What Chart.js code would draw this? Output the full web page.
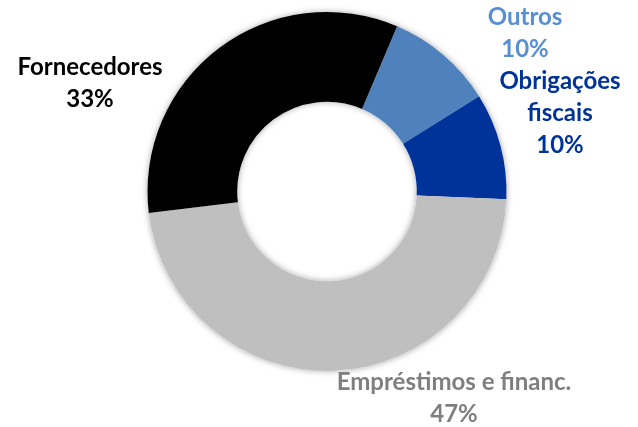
<!DOCTYPE html>
<html>
<head>
<meta charset="utf-8">
<script src="https://cdn.jsdelivr.net/npm/chart.js@4.4.1/dist/chart.umd.min.js"></script>
<style>
  html, body { margin: 0; padding: 0; background: #fff; }
  #wrap { width: 638px; height: 427px; }
</style>
</head>
<body>
<div id="wrap"><canvas id="passivoChart" width="638" height="427"></canvas></div>
<script>
// Composição do passivo
const categorias = ['Outros', 'Obrigações fiscais', 'Empréstimos e financ.', 'Fornecedores'];
const linhasRotulo = [['Outros'], ['Obrigações', 'fiscais'], ['Empréstimos e financ.'], ['Fornecedores']];
const valores = [9.7, 9.6, 47.4, 33.3];
const rotulosPct = ['10%', '10%', '47%', '33%'];

const coresFatias = ['#4f81bd', '#003399', '#bfbfbf', '#000000'];
const coresTexto = ['#588fd3', '#003399', '#7f7f7f', '#000000'];

// deslocamento do centro do bloco de texto em relação ao centro do anel
const posRotulos = [
    { dx: 198, dy: -158 },
    { dx: 233, dy: -78 },
    { dx: 127, dy: 207 },
    { dx: -237, dy: -108 }
];

// sombra suave sob o anel (estilo Excel)
const sombraAnel = {
    id: 'sombraAnel',
    beforeDatasetsDraw(chart) {
        const arc = chart.getDatasetMeta(0).data[0];
        if (!arc) return;
        const ctx = chart.ctx;
        ctx.save();
        ctx.beginPath();
        ctx.arc(arc.x, arc.y, arc.outerRadius, 0, Math.PI * 2);
        ctx.arc(arc.x, arc.y, arc.innerRadius, 0, Math.PI * 2, true);
        ctx.shadowColor = 'rgba(0, 0, 0, 0.35)';
        ctx.shadowBlur = 6;
        ctx.fillStyle = '#ffffff';
        ctx.fill('evenodd');
        ctx.restore();
    }
};

// rótulos de dados fora do anel
const rotulosFatias = {
    id: 'rotulosFatias',
    afterDatasetsDraw(chart) {
        const arc = chart.getDatasetMeta(0).data[0];
        if (!arc) return;
        const ctx = chart.ctx;
        const alturaLinha = 32;
        ctx.save();
        ctx.font = "bold 24px Lato, 'Open Sans', sans-serif";
        ctx.textAlign = 'center';
        ctx.textBaseline = 'middle';
        categorias.forEach(function(cat, i) {
            const linhas = linhasRotulo[i].concat([rotulosPct[i]]);
            const cx = arc.x + posRotulos[i].dx;
            const cy = arc.y + posRotulos[i].dy;
            const y0 = cy - (linhas.length - 1) * alturaLinha / 2;
            ctx.fillStyle = coresTexto[i];
            linhas.forEach(function(t, j) {
                ctx.fillText(t, cx, y0 + j * alturaLinha);
            });
        });
        ctx.restore();
    }
};

new Chart(document.getElementById('passivoChart').getContext('2d'), {
    type: 'doughnut',
    data: {
        labels: categorias,
        datasets: [{
            data: valores,
            backgroundColor: coresFatias,
            borderWidth: 0,
            hoverOffset: 0,
            offset: 0
        }]
    },
    options: {
        responsive: false,
        animation: false,
        cutout: '50%',
        rotation: 23,
        layout: { padding: { top: 12, bottom: 56, left: 16, right: 0 } },
        plugins: {
            legend: { display: false },
            tooltip: { enabled: false }
        }
    },
    plugins: [sombraAnel, rotulosFatias]
});
</script>
</body>
</html>
